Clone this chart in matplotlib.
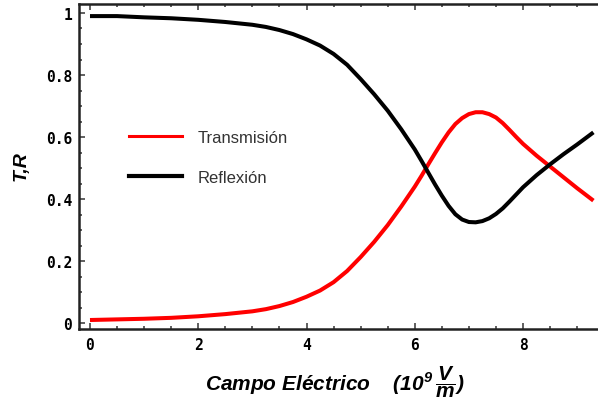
import matplotlib
matplotlib.use("Agg")
import matplotlib.pyplot as plt
from matplotlib.lines import Line2D
from matplotlib.ticker import MultipleLocator, FixedLocator

# campo electrico en unidades de 10^9 V/m
campo = [0.0, 0.5, 1.0, 1.5, 2.0, 2.5, 3.0, 3.25, 3.5, 3.75, 4.0, 4.25,
         4.5, 4.75, 5.0, 5.25, 5.5, 5.75, 6.0, 6.125, 6.25, 6.375, 6.5,
         6.625, 6.75, 6.875, 7.0, 7.125, 7.25, 7.375, 7.5, 7.625, 7.75,
         7.875, 8.0, 8.25, 8.5, 8.75, 9.0, 9.3]
transmision = [0.010, 0.012, 0.014, 0.017, 0.022, 0.029, 0.038, 0.045, 0.055,
               0.068, 0.085, 0.105, 0.132, 0.168, 0.213, 0.262, 0.316, 0.376,
               0.440, 0.475, 0.512, 0.548, 0.583, 0.615, 0.642, 0.661, 0.674,
               0.680, 0.680, 0.674, 0.663, 0.645, 0.623, 0.600, 0.578, 0.540,
               0.505, 0.470, 0.435, 0.395]
reflexion = [0.990, 0.990, 0.986, 0.983, 0.978, 0.971, 0.962, 0.955, 0.945,
             0.932, 0.915, 0.895, 0.868, 0.833, 0.787, 0.738, 0.685, 0.625,
             0.560, 0.523, 0.485, 0.447, 0.411, 0.378, 0.351, 0.334, 0.326,
             0.325, 0.329, 0.338, 0.352, 0.370, 0.392, 0.415, 0.438, 0.477,
             0.512, 0.545, 0.576, 0.615]

xticks = [0, 2, 4, 6, 8]
yticks = [0, 0.2, 0.4, 0.6, 0.8, 1.0]
ytick_labels = ['0', '0.2', '0.4', '0.6', '0.8', '1']

plt.rcParams['mathtext.fontset'] = 'custom'
plt.rcParams['mathtext.it'] = 'Liberation Sans:italic:bold'
plt.rcParams['mathtext.rm'] = 'Liberation Sans:italic:bold'
plt.rcParams['mathtext.bf'] = 'Liberation Sans:italic:bold'

fig = plt.figure(figsize=(5.98, 4.06), dpi=100)
ax = fig.add_axes([79/598, 1 - 330/406, 519/598, 325/406])

ax.plot(campo, transmision, color='#ff0000', lw=2.9, solid_joinstyle='round',
        solid_capstyle='butt', zorder=3)
ax.plot(campo, reflexion, color='#000000', lw=2.9, solid_joinstyle='round',
        solid_capstyle='butt', zorder=3)

ax.set_xlim(-0.203, 9.385)
ax.set_ylim(-0.019, 1.029)

# frame and ticks
for side in ['left', 'bottom', 'top']:
    ax.spines[side].set_linewidth(1.8)
    ax.spines[side].set_color('#222222')
ax.spines['right'].set_visible(False)

ax.xaxis.set_major_locator(FixedLocator(xticks))
ax.xaxis.set_minor_locator(MultipleLocator(0.5))
ax.yaxis.set_major_locator(FixedLocator(yticks))
ax.yaxis.set_minor_locator(MultipleLocator(0.05))
ax.set_yticklabels(ytick_labels)
ax.tick_params(which='both', direction='in', top=True, right=False,
               color='#444444', width=1.2)
ax.tick_params(which='major', length=4)
ax.tick_params(which='minor', length=2.5)
ax.tick_params(axis='x', which='major', pad=6)
ax.tick_params(axis='y', which='major', pad=5)
for lbl in ax.get_xticklabels() + ax.get_yticklabels():
    lbl.set_fontfamily('DejaVu Sans Mono')
    lbl.set_fontweight('bold')
    lbl.set_fontsize(10.5)

# axis labels
ax.set_ylabel('T,R', fontfamily='Liberation Sans', fontweight='bold',
              fontstyle='italic', fontsize=14)
ax.yaxis.label.set_va('center')
ax.yaxis.set_label_coords(-0.112, 0.505)

ax.set_xlabel(r'Campo Eléctrico    $(10^{9}\,\dfrac{V}{m})$',
              fontfamily='Liberation Sans', fontweight='bold',
              fontstyle='italic', fontsize=15)
ax.xaxis.label.set_va('center')
ax.xaxis.set_label_coords(0.493, -0.16)

# legend
handles = [Line2D([], [], color='#ff0000', lw=2.2),
           Line2D([], [], color='#000000', lw=3.0)]
leg = ax.legend(handles, ['Transmisión', 'Reflexión'], loc='center left',
                bbox_to_anchor=(0.096, 0.529), frameon=False, borderpad=0,
                borderaxespad=0, handlelength=3.2, handletextpad=0.9,
                labelspacing=1.5, prop={'family': 'Liberation Sans', 'size': 12})
for t in leg.get_texts():
    t.set_color('#333333')

fig.savefig('out.png', dpi=100)
